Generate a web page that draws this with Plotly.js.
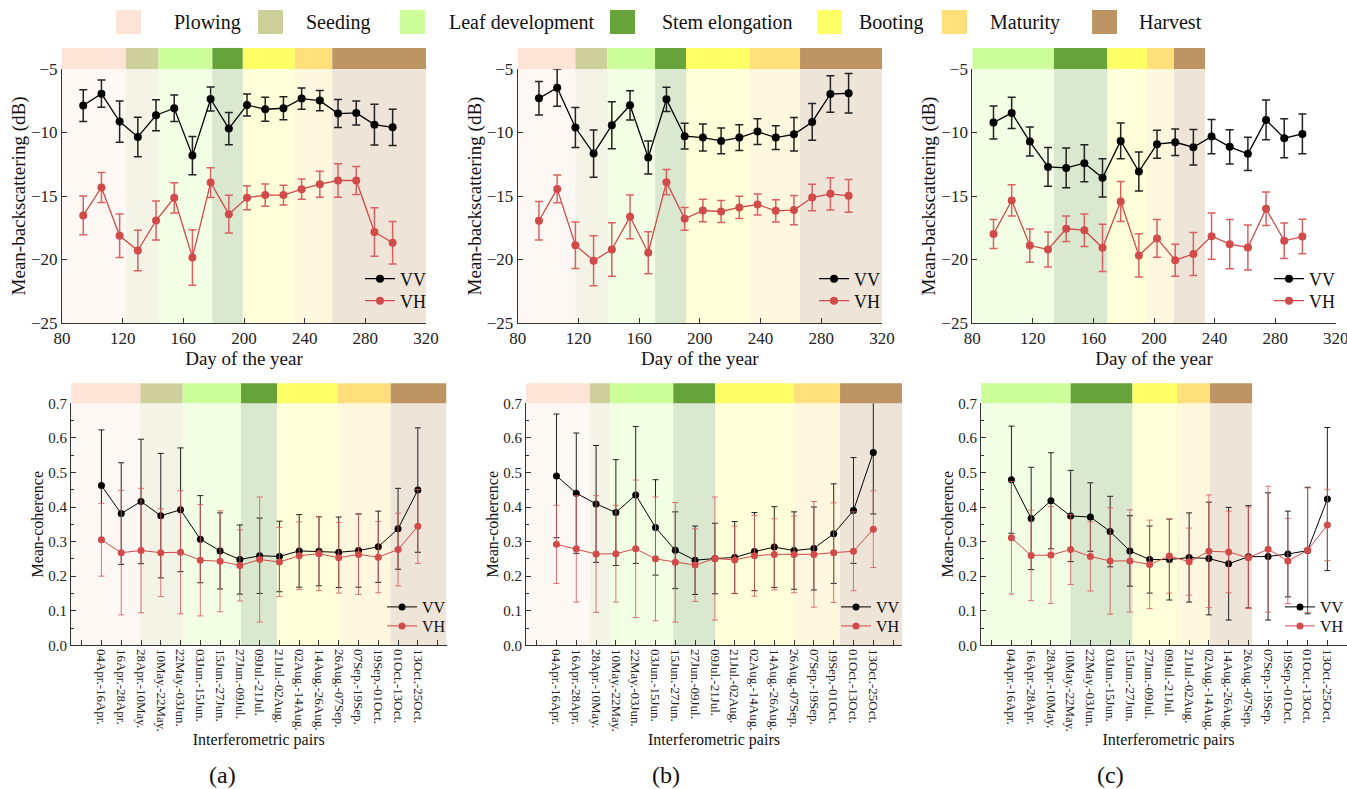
<!DOCTYPE html>
<html>
<head>
<meta charset="utf-8">
<script src="https://cdn.plot.ly/plotly-3.0.1.min.js"></script>
<style>
html,body{margin:0;padding:0;background:#fff;overflow:hidden;}
#chart{width:1365px;height:789px;}
</style>
</head>
<body>
<div id="chart"></div>
<script>
// ---------------- data ----------------
const days = [94,106,118,130,142,154,166,178,190,202,214,226,238,250,262,274,286,298];

const vvA    = [-7.88,-6.94,-9.14,-10.35,-8.64,-8.09,-11.82,-7.36,-9.69,-7.83,-8.17,-8.09,-7.33,-7.49,-8.51,-8.46,-9.38,-9.59];
const vvAErr = [1.25,1.07,1.63,1.55,1.22,1.05,1.51,0.95,1.27,0.87,0.94,0.90,0.83,0.80,1.10,0.94,1.60,1.43];
const vhA    = [-16.53,-14.33,-18.13,-19.29,-16.93,-15.14,-19.84,-13.94,-16.43,-15.14,-14.93,-14.93,-14.46,-14.07,-13.78,-13.78,-17.84,-18.68];
const vhAErr = [1.53,1.19,1.72,1.60,1.53,1.19,2.19,1.17,1.49,0.94,0.87,0.77,0.80,1.02,1.31,1.10,1.91,1.68];

const vvB    = [-7.31,-6.47,-9.61,-11.66,-9.43,-7.86,-11.97,-7.39,-10.29,-10.40,-10.66,-10.40,-9.93,-10.40,-10.14,-9.17,-6.97,-6.91];
const vvBErr = [1.32,1.47,1.57,1.86,1.85,1.15,1.30,0.96,1.01,1.06,1.02,1.02,1.02,0.94,1.32,1.45,1.44,1.55];
const vhB    = [-16.95,-14.44,-18.87,-20.10,-19.21,-16.64,-19.47,-13.91,-16.80,-16.14,-16.22,-15.90,-15.67,-16.17,-16.11,-15.12,-14.83,-14.99];
const vhBErr = [1.51,1.10,1.83,1.97,2.11,1.72,1.65,1.00,0.89,0.89,0.87,0.88,0.83,0.87,1.15,1.05,1.27,1.28];

const vvC    = [-9.22,-8.46,-10.71,-12.71,-12.79,-12.42,-13.57,-10.66,-13.07,-10.92,-10.77,-11.16,-10.32,-11.13,-11.68,-9.01,-10.45,-10.11];
const vvCErr = [1.30,1.23,1.15,1.52,1.56,1.45,1.51,1.40,1.53,1.10,1.05,1.40,1.35,1.35,1.31,1.56,1.53,1.57];
const vhC    = [-18.00,-15.35,-18.90,-19.21,-17.58,-17.69,-19.08,-15.43,-19.68,-18.34,-20.05,-19.57,-18.16,-18.79,-19.05,-16.01,-18.53,-18.19];
const vhCErr = [1.14,1.23,1.31,1.38,1.01,1.28,1.86,1.57,1.70,1.49,1.26,1.69,1.83,1.94,1.77,1.32,1.40,1.35];

const pairs = ["04Apr.-16Apr.","16Apr.-28Apr.","28Apr.-10May.","10May.-22May.","22May.-03Jun.","03Jun.-15Jun.",
  "15Jun.-27Jun.","27Jun.-09Jul.","09Jul.-21Jul.","21Jul.-02Aug.","02Aug.-14Aug.","14Aug.-26Aug.",
  "26Aug.-07Sep.","07Sep.-19Sep.","19Sep.-01Oct.","01Oct.-13Oct.","13Oct.-25Oct."];

const cohVVa    = [0.462,0.381,0.416,0.375,0.392,0.307,0.273,0.248,0.259,0.257,0.273,0.272,0.269,0.274,0.285,0.337,0.449];
const cohVVaErr = [0.161,0.147,0.180,0.180,0.179,0.126,0.110,0.100,0.109,0.102,0.105,0.100,0.102,0.106,0.103,0.117,0.180];
const cohVHa    = [0.305,0.268,0.274,0.268,0.269,0.246,0.243,0.231,0.248,0.241,0.259,0.265,0.253,0.263,0.255,0.277,0.344];
const cohVHaErr = [0.105,0.180,0.180,0.127,0.178,0.161,0.146,0.103,0.181,0.100,0.098,0.107,0.102,0.116,0.103,0.105,0.107];

const cohVVb    = [0.490,0.440,0.409,0.384,0.435,0.341,0.275,0.246,0.251,0.254,0.271,0.284,0.274,0.280,0.323,0.390,0.558];
const cohVVbErr = [0.179,0.174,0.169,0.153,0.198,0.138,0.111,0.099,0.102,0.104,0.113,0.117,0.112,0.120,0.144,0.153,0.178];
const cohVHb    = [0.292,0.279,0.264,0.265,0.279,0.250,0.240,0.232,0.251,0.247,0.259,0.263,0.263,0.263,0.268,0.272,0.336];
const cohVHbErr = [0.113,0.154,0.169,0.140,0.199,0.179,0.173,0.105,0.178,0.098,0.117,0.103,0.111,0.153,0.144,0.114,0.111];

const cohVVc    = [0.479,0.367,0.418,0.374,0.371,0.329,0.273,0.248,0.248,0.254,0.251,0.236,0.256,0.257,0.264,0.274,0.423];
const cohVVcErr = [0.155,0.148,0.139,0.132,0.099,0.102,0.102,0.097,0.117,0.129,0.163,0.163,0.148,0.184,0.124,0.183,0.207];
const cohVHc    = [0.311,0.260,0.261,0.277,0.257,0.244,0.244,0.234,0.258,0.242,0.272,0.270,0.253,0.278,0.244,0.275,0.348];
const cohVHcErr = [0.163,0.131,0.140,0.101,0.100,0.154,0.148,0.128,0.107,0.097,0.163,0.118,0.147,0.182,0.123,0.180,0.103];

const stageNames  = ["Plowing","Seeding","Leaf development","Stem elongation","Booting","Maturity","Harvest"];
const stageColors = ["#FDE4D6","#CED09C","#CCFF99","#66A33B","#FFFF66","#FFDF7A","#BD9463"];

// stage boundaries (day of year) for the backscattering panels
const stagesTopA = [0,1,2,3,4,5,6], boundsTopA = [80,122.2,143.6,179.2,199.2,233.5,258.2,320];
const stagesTopB = [0,1,2,3,4,5,6], boundsTopB = [80,118,139.1,170.5,190.9,232.8,266,320];
const stagesTopC = [2,3,4,5,6],     boundsTopC = [80,133.9,169.2,195.4,213.2,233.7];
// stage boundaries (pair index) for the coherence panels
const stagesBotA = [0,1,2,3,4,5,6], boundsBotA = [-0.54,2.97,5.11,8.06,9.88,12.93,15.63,18.45];
const stagesBotB = [0,1,2,3,4,5,6], boundsBotB = [-0.54,2.69,3.70,6.90,9.01,13.0,15.32,18.45];
const stagesBotC = [2,3,4,5,6],     boundsBotC = [-0.54,4.0,7.13,9.39,11.06,13.19];

const panelLabels = ["(a)","(b)","(c)"];

// ---------------- layout helpers ----------------
const W = 1365, H = 789;
const FONT = "Liberation Serif, Times New Roman, serif";
const px = v => v / W;
const py = v => 1 - v / H;
const VVC = "#000000", VHC = "#D14B4B";

const pairIdx = pairs.map((_, i) => i + 1);
const tickIdx = [0, ...pairIdx, pairs.length + 1];
const tickTxt = ["", ...pairs, ""];

const traces = [];
const legends = {};
let legendCount = 0;
function newLegend(xp, yp, size) {
  legendCount += 1;
  const key = legendCount === 1 ? "legend" : "legend" + legendCount;
  legends[key] = {x:px(xp), y:py(yp), xanchor:"left", yanchor:"middle", bgcolor:"rgba(0,0,0,0)",
    font:{family:FONT, size:size, color:"#111"}, itemwidth:30};
  return key;
}

function addTop(n, vv, vvE, vh, vhE, lx) {
  const ax = n === 1 ? "" : String(n);
  traces.push({type:"scatter", mode:"lines+markers", name:"VV", x:days, y:vv,
    xaxis:"x"+ax, yaxis:"y"+ax, legend:newLegend(lx, 279, 18),
    line:{color:VVC, width:1.3}, marker:{color:VVC, size:8},
    error_y:{type:"data", array:vvE, visible:true, color:"#222", thickness:1.5, width:4}});
  traces.push({type:"scatter", mode:"lines+markers", name:"VH", x:days, y:vh,
    xaxis:"x"+ax, yaxis:"y"+ax, legend:newLegend(lx, 301, 18),
    line:{color:VHC, width:1.3}, marker:{color:VHC, size:8},
    error_y:{type:"data", array:vhE, visible:true, color:"#D86262", thickness:1.5, width:4}});
}
function addBot(n, vv, vvE, vh, vhE, lx) {
  traces.push({type:"scatter", mode:"lines+markers", name:"VV", x:pairIdx, y:vv,
    xaxis:"x"+n, yaxis:"y"+n, legend:newLegend(lx, 607, 16),
    line:{color:VVC, width:1}, marker:{color:VVC, size:7},
    error_y:{type:"data", array:vvE, visible:true, color:"#222", thickness:1, width:3}});
  traces.push({type:"scatter", mode:"lines+markers", name:"VH", x:pairIdx, y:vh,
    xaxis:"x"+n, yaxis:"y"+n, legend:newLegend(lx, 626, 16),
    line:{color:VHC, width:1}, marker:{color:VHC, size:7},
    error_y:{type:"data", array:vhE, visible:true, color:"rgba(214,95,95,0.85)", thickness:1, width:3}});
}
addTop(1, vvA, vvAErr, vhA, vhAErr, 360);
addTop(2, vvB, vvBErr, vhB, vhBErr, 814);
addTop(3, vvC, vvCErr, vhC, vhCErr, 1269);
addBot(4, cohVVa, cohVVaErr, cohVHa, cohVHaErr, 382);
addBot(5, cohVVb, cohVVbErr, cohVHb, cohVHbErr, 836);
addBot(6, cohVVc, cohVVcErr, cohVHc, cohVHcErr, 1280);

const shapes = [];
function addStages(n, stages, bounds, bandTop) {
  const xr = n === 1 ? "x" : "x" + n;
  const yr = (n === 1 ? "y" : "y" + n) + " domain";
  stages.forEach((s, i) => {
    shapes.push({type:"rect", layer:"below", xref:xr, yref:yr, x0:bounds[i], x1:bounds[i+1], y0:0, y1:1,
      fillcolor:stageColors[s], opacity:0.25, line:{width:0}});
    shapes.push({type:"rect", layer:"below", xref:xr, yref:yr, x0:bounds[i], x1:bounds[i+1], y0:1, y1:bandTop,
      fillcolor:stageColors[s], opacity:1, line:{width:0}});
  });
}
addStages(1, stagesTopA, boundsTopA, 1.083);
addStages(2, stagesTopB, boundsTopB, 1.083);
addStages(3, stagesTopC, boundsTopC, 1.083);
addStages(4, stagesBotA, boundsBotA, 1.083);
addStages(5, stagesBotB, boundsBotB, 1.083);
addStages(6, stagesBotC, boundsBotC, 1.083);

// stage legend at the top
const annotations = [];
const legSqX = [116,258,400,610,817,942,1092];
const legTxX = [172,304,447,660,857,988,1137];
stageNames.forEach((nm, i) => {
  shapes.push({type:"rect", xref:"paper", yref:"paper", x0:px(legSqX[i]), x1:px(legSqX[i]+25),
    y0:py(34), y1:py(10), fillcolor:stageColors[i], line:{width:0}});
  annotations.push({xref:"paper", yref:"paper", x:px(legTxX[i]), y:py(22), xanchor:"left", yanchor:"middle",
    text:nm, showarrow:false, font:{family:FONT, size:20, color:"#111"}});
});
[222, 666, 1110].forEach((cx, i) => {
  annotations.push({xref:"paper", yref:"paper", x:px(cx), y:py(775), xanchor:"center", yanchor:"middle",
    text:panelLabels[i], showarrow:false, font:{family:FONT, size:24, color:"#111"}});
});

const axBase = {showline:true, linecolor:"#333", linewidth:1, ticks:"inside", ticklen:5, tickcolor:"#333",
  showgrid:false, zeroline:false, mirror:false, fixedrange:true};

function topX(domain) {
  return Object.assign({}, axBase, {domain:domain, range:[80,320], dtick:40, tick0:80,
    tickfont:{family:FONT, size:17, color:"#222"},
    title:{text:"Day of the year", font:{family:FONT, size:19, color:"#111"}, standoff:4}});
}
function topY(anchor) {
  return Object.assign({}, axBase, {domain:[py(323), py(69)], anchor:anchor, range:[-25,-5], dtick:5,
    tickfont:{family:FONT, size:17, color:"#222"},
    title:{text:"Mean-backscattering (dB)", font:{family:FONT, size:19, color:"#111"}, standoff:0}});
}
function botX(domain) {
  return Object.assign({}, axBase, {domain:domain, range:[-0.54,18.45], tickmode:"array",
    tickvals:tickIdx, ticktext:tickTxt, tickangle:90,
    tickfont:{family:FONT, size:13, color:"#222"},
    title:{text:"Interferometric pairs", font:{family:FONT, size:16, color:"#111"}, standoff:0}});
}
function botY(anchor) {
  return Object.assign({}, axBase, {domain:[py(645.3), py(403.3)], anchor:anchor, range:[0,0.7], dtick:0.1,
    tickformat:".1f", minor:{dtick:0.05, ticks:"inside", ticklen:3, tickcolor:"#333"},
    tickfont:{family:FONT, size:15, color:"#222"},
    title:{text:"Mean-coherence", font:{family:FONT, size:16, color:"#111"}, standoff:0}});
}

const layout = Object.assign({
  width:W, height:H, margin:{l:0, r:0, t:0, b:0},
  paper_bgcolor:"#fff", plot_bgcolor:"rgba(0,0,0,0)",
  font:{family:FONT, color:"#111"},
  xaxis:  Object.assign(topX([px(62), px(426)]), {anchor:"y"}),
  yaxis:  topY("x"),
  xaxis2: Object.assign(topX([px(517.7), px(882)]), {anchor:"y2"}),
  yaxis2: topY("x2"),
  xaxis3: Object.assign(topX([px(972.3), px(1335.7)]), {anchor:"y3"}),
  yaxis3: topY("x3"),
  xaxis4: Object.assign(botX([px(71), px(446.5)]), {anchor:"y4"}),
  yaxis4: botY("x4"),
  xaxis5: Object.assign(botX([px(526), px(902)]), {anchor:"y5"}),
  yaxis5: botY("x5"),
  xaxis6: Object.assign(botX([px(981), px(1356)]), {anchor:"y6"}),
  yaxis6: botY("x6"),
  shapes: shapes,
  annotations: annotations,
  showlegend: true
}, legends);

Plotly.newPlot("chart", traces, layout, {displayModeBar:false, staticPlot:true});
</script>
</body>
</html>
